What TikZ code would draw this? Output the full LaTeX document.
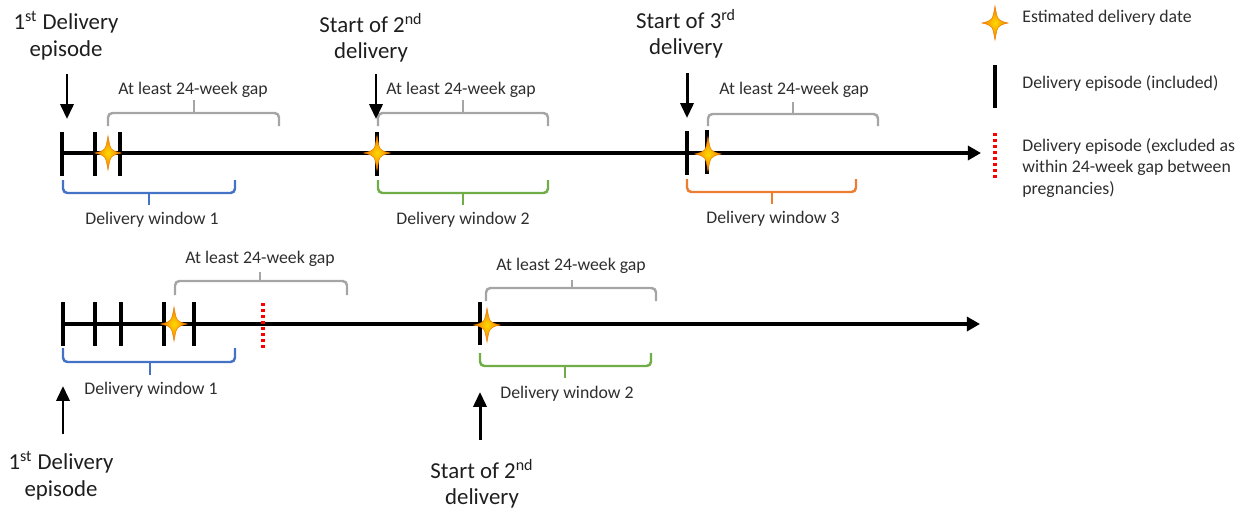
\documentclass[tikz,border=0pt]{standalone}
\usepackage{fontspec}
\setmainfont{Carlito}
\usetikzlibrary{arrows.meta}
\definecolor{txt}{HTML}{1E1E1E}
\definecolor{stxt}{HTML}{2E2E2E}
\definecolor{gapgray}{HTML}{A5A5A5}
\definecolor{wblue}{HTML}{4472C4}
\definecolor{wgreen}{HTML}{70AD47}
\definecolor{worange}{HTML}{ED7D31}
\definecolor{starin}{HTML}{FFD800}
\definecolor{starout}{HTML}{F07A00}
\newcommand\mybrace[7]{%
  \draw[bracestyle,#1] (#2,#5) -- (#2,#6) -- (#3,#6) -- (#3,#5);
  \draw[bracestyle,#1] (#4,#6) -- (#4,#7);
}
\begin{document}
\begin{tikzpicture}[x=0.02cm,y=-0.02cm,
  big/.style={font=\fontsize{13}{15.3}\selectfont, text=txt, align=center, inner sep=0},
  small/.style={font=\fontsize{10.1}{12.5}\selectfont, text=stxt, inner sep=0},
  legtext/.style={small, anchor=west, align=left, font=\fontsize{10.1}{12.2}\selectfont},
  axisline/.style={line width=1.9pt, -{Triangle[length=7.5pt,width=8pt]}},
  tick/.style={line width=2.1pt},
  excl/.style={red, line width=1.9pt, dash pattern=on 1.7pt off 1.7pt},
  ptr/.style={line width=1.7pt, -{Triangle[length=8.5pt,width=7.5pt]}},
  bracestyle/.style={line width=1.4pt, rounded corners=2.5pt},
  estar/.pic={\shadedraw[inner color=starin, outer color=starout, draw=starout, line width=0.3pt]
     (13,0) .. controls (2.5,2.5) .. (0,17) .. controls (-2.5,2.5) .. (-13,0)
     .. controls (-2.5,-2.5) .. (0,-17) .. controls (2.5,-2.5) .. (13,0) -- cycle;},
]
\useasboundingbox (0,0) rectangle (1247,512);

% ---------- top timeline ----------
\coordinate (ax1s) at (62,153);
\coordinate (ax1e) at (981,153);
\draw[axisline] (ax1s) -- (ax1e);
\foreach \x in {62,95,120,377} \draw[tick] (\x,132) -- (\x,176);
\draw[tick] (687,131) -- (687,175);
\draw[tick] (707,130) -- (707,174);
\pic at (108,153) {estar};
\pic at (377,153) {estar};
\pic at (708,154) {estar};

% gap braces
\mybrace{gapgray}{108}{279}{194}{126}{113}{100}
\mybrace{gapgray}{378}{548}{463}{126}{113}{100}
\mybrace{gapgray}{708}{878}{793}{126}{114}{102}
\node[small] (g1) at (193,90) {At least 24-week gap};
\node[small] (g2) at (461,90) {At least 24-week gap};
\node[small] (g3) at (794,90) {At least 24-week gap};

% window braces
\mybrace{wblue}{63}{235}{149}{180}{193}{205}
\mybrace{wgreen}{378}{548}{463}{180}{193}{205}
\mybrace{worange}{687}{856}{772}{179}{192}{204}
\node[small] (w1) at (152,220) {Delivery window 1};
\node[small] (w2) at (463,220) {Delivery window 2};
\node[small] (w3) at (773,219) {Delivery window 3};

% labels + pointers
\node[big] (t1) at (66,36) {1\textsuperscript{st} Delivery\\episode};
\node[big] (t2) at (371,38) {Start of 2\textsuperscript{nd}\\delivery};
\node[big] (t3) at (686,34) {Start of 3\textsuperscript{rd}\\delivery};
\coordinate (p1s) at (67,74);  \coordinate (p1e) at (67,119);
\coordinate (p2s) at (376,74); \coordinate (p2e) at (376,119);
\coordinate (p3s) at (687,73); \coordinate (p3e) at (687,118);
\draw[ptr] (p1s) -- (p1e);
\draw[ptr] (p2s) -- (p2e);
\draw[ptr] (p3s) -- (p3e);

% ---------- bottom timeline ----------
\coordinate (ax2s) at (62,324);
\coordinate (ax2e) at (980,324);
\draw[axisline] (ax2s) -- (ax2e);
\foreach \x in {63,95,121,164,194} \draw[tick] (\x,302) -- (\x,346);
\draw[tick] (480,302) -- (480,345);
\draw[excl] (263,303) -- (263,348);
\pic at (174,324) {estar};
\pic at (487,325) {estar};

\mybrace{gapgray}{175}{347}{260}{295}{281}{272}
\mybrace{gapgray}{486}{656}{572}{301}{288}{280}
\node[small] (g4) at (260,259) {At least 24-week gap};
\node[small] (g5) at (571,266) {At least 24-week gap};

\mybrace{wblue}{63}{235}{150}{348}{362}{375}
\mybrace{wgreen}{480}{651}{565}{353}{366}{378}
\node[small] (w4) at (151,390) {Delivery window 1};
\node[small] (w5) at (567,394) {Delivery window 2};

\node[big] (b1) at (61,476) {1\textsuperscript{st} Delivery\\episode};
\node[big] (b2) at (482,484) {Start of 2\textsuperscript{nd}\\delivery};
\coordinate (q1s) at (63,434); \coordinate (q1e) at (63,386);
\coordinate (q2s) at (480,440); \coordinate (q2e) at (480,392);
\draw[ptr] (q1s) -- (q1e);
\draw[ptr] (q2s) -- (q2e);

% ---------- legend ----------
\pic at (995,23) {estar};
\node[legtext] (l1) at (1022,18) {Estimated delivery date};
\draw[tick] (995,65) -- (995,108);
\node[legtext] (l2) at (1022,83) {Delivery episode (included)};
\draw[excl] (995,133) -- (995,178);
\node[legtext] (l3) at (1022,168) {Delivery episode (excluded as\\within 24-week gap between\\pregnancies)};
\end{tikzpicture}
\end{document}
